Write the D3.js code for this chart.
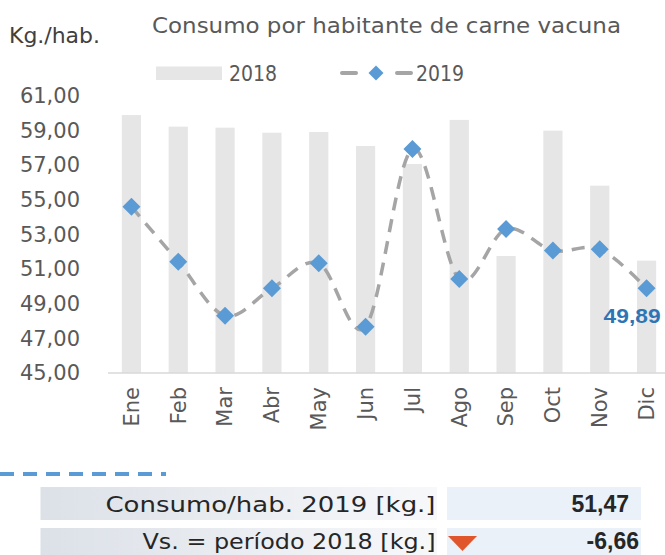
<!DOCTYPE html>
<html><head><meta charset="utf-8">
<script src="https://cdn.jsdelivr.net/npm/d3@7"></script>
<style>
html,body{margin:0;padding:0;background:#fff;}
svg{display:block;}
</style></head>
<body>
<svg id="chart" width="665" height="555"></svg>
<script>
const months = ["Ene","Feb","Mar","Abr","May","Jun","Jul","Ago","Sep","Oct","Nov","Dic"];
const values2018 = [59.90,59.23,59.17,58.88,58.92,58.11,57.07,59.62,51.76,59.00,55.82,51.49];
const values2019 = [54.61,51.43,48.31,49.89,51.34,47.67,57.94,50.43,53.32,52.07,52.15,49.89];
const yTicks = [45,47,49,51,53,55,57,59,61];
const title = "Consumo por habitante de carne vacuna";
const unitLabel = "Kg./hab.";
const seriesNames = ["2018","2019"];
const lastLabel = "49,89";
const tableLabels = ["Consumo/hab. 2019 [kg.]","Vs. = período 2018 [kg.]"];
const tableValues = ["51,47","-6,66"];

const svg = d3.select("#chart");
const fmt = d => d.toFixed(2).replace(".", ",");
const narrow = "'DejaVu Sans Condensed','DejaVu Sans',sans-serif";
const wide = "'DejaVu Sans',sans-serif";

const x = d3.scaleBand().domain(months).range([108, 670]).paddingInner(0.59).paddingOuter(0.295);
const y = d3.scaleLinear().domain([45, 61]).range([373, 96]);

// Title
svg.append("text").attr("x", 152).attr("y", 33).text(title)
  .attr("font-family", narrow).attr("font-size", 21.5).attr("fill", "#595959")
  .attr("textLength", 469).attr("lengthAdjust", "spacingAndGlyphs");
svg.append("text").attr("x", 9).attr("y", 43).text(unitLabel)
  .attr("font-family", narrow).attr("font-size", 21).attr("fill", "#404040")
  .attr("textLength", 91).attr("lengthAdjust", "spacingAndGlyphs");

// Legend
svg.append("rect").attr("x", 156).attr("y", 66.5).attr("width", 66).attr("height", 13.5).attr("fill", "#e7e6e6");
svg.append("text").attr("x", 229).attr("y", 81).text(seriesNames[0])
  .attr("font-family", narrow).attr("font-size", 22).attr("fill", "#595959")
  .attr("textLength", 48).attr("lengthAdjust", "spacingAndGlyphs");
svg.append("line").attr("x1", 342).attr("x2", 356).attr("y1", 73).attr("y2", 73)
  .attr("stroke", "#a5a5a5").attr("stroke-width", 4).attr("stroke-linecap", "round");
svg.append("line").attr("x1", 397).attr("x2", 411).attr("y1", 73).attr("y2", 73)
  .attr("stroke", "#a5a5a5").attr("stroke-width", 4).attr("stroke-linecap", "round");
const diamond = (cx, cy, r) => `M${cx},${cy - r}L${cx + r},${cy}L${cx},${cy + r}L${cx - r},${cy}Z`;
svg.append("path").attr("d", diamond(376, 73, 7.5)).attr("fill", "#5b9bd5");
svg.append("text").attr("x", 416).attr("y", 81).text(seriesNames[1])
  .attr("font-family", narrow).attr("font-size", 22).attr("fill", "#595959")
  .attr("textLength", 48).attr("lengthAdjust", "spacingAndGlyphs");

// Bars
svg.append("g").selectAll("rect").data(months).join("rect")
  .attr("x", d => x(d)).attr("width", x.bandwidth())
  .attr("y", (d, i) => y(values2018[i])).attr("height", (d, i) => y(45) - y(values2018[i]))
  .attr("fill", "#e7e6e6");

// Y axis
const yAxis = svg.append("g").attr("transform", "translate(86,0)")
  .call(d3.axisLeft(y).tickValues(yTicks).tickFormat(fmt).tickSize(0).tickPadding(6));
yAxis.select(".domain").remove();
yAxis.selectAll("text").attr("font-family", wide).attr("font-size", 21).attr("fill", "#595959");

// X axis
const xAxis = svg.append("g").attr("transform", "translate(0,373)")
  .call(d3.axisBottom(x).tickSize(0).tickPadding(0));
xAxis.select(".domain").attr("stroke", "#d9d9d9").attr("stroke-width", 1.5).attr("d", "M108,0H665");
xAxis.selectAll("text").attr("font-family", wide).attr("font-size", 21).attr("fill", "#595959")
  .attr("transform", "rotate(-90)").attr("text-anchor", "end")
  .attr("x", -14).attr("y", 0).attr("dy", "0.35em");

// Line 2019
const line = d3.line().x((d, i) => x(months[i]) + x.bandwidth() / 2).y(d => y(d)).curve(d3.curveCatmullRom.alpha(0));
svg.append("path").datum(values2019).attr("d", line).attr("fill", "none")
  .attr("stroke", "#a5a5a5").attr("stroke-width", 3.5).attr("stroke-dasharray", "13,9");
svg.append("g").selectAll("path").data(values2019).join("path")
  .attr("d", (d, i) => diamond(x(months[i]) + x.bandwidth() / 2, y(d), 9))
  .attr("fill", "#5b9bd5");

// Data label
const lastX = x(months[11]) + x.bandwidth() / 2;
svg.append("text").attr("x", lastX + 14).attr("y", y(values2019[11]) + 35).attr("text-anchor", "end")
  .text(lastLabel).attr("font-family", "'Liberation Sans',Arial,sans-serif").attr("font-weight", "bold")
  .attr("font-size", 21).attr("fill", "#2e75b6")
  .attr("textLength", 57).attr("lengthAdjust", "spacingAndGlyphs");

// Bottom dashed line
svg.append("line").attr("x1", 0).attr("x2", 166).attr("y1", 474).attr("y2", 474)
  .attr("stroke", "#5b9bd5").attr("stroke-width", 4).attr("stroke-dasharray", "14,9");

// Table
const defs = svg.append("defs");
const grad = defs.append("linearGradient").attr("id", "lblGrad").attr("x1", "0").attr("x2", "1").attr("y1", "0").attr("y2", "0");
grad.append("stop").attr("offset", "0").attr("stop-color", "#dce1e8");
grad.append("stop").attr("offset", "1").attr("stop-color", "#f7f8fa");
const rowY = [487, 528];
const baseY = [512, 549];
tableLabels.forEach((lab, i) => {
  svg.append("rect").attr("x", 40.5).attr("y", rowY[i]).attr("width", 396.5).attr("height", 33).attr("fill", "url(#lblGrad)");
  svg.append("rect").attr("x", 447).attr("y", rowY[i]).attr("width", 194).attr("height", 33).attr("fill", "#eaf1f9");
  svg.append("text").attr("x", 435.5).attr("y", baseY[i]).attr("text-anchor", "end").text(lab)
    .attr("font-family", wide).attr("font-size", 22).attr("fill", "#262626")
    .attr("textLength", i === 0 ? 330 : 293).attr("lengthAdjust", "spacingAndGlyphs");
  svg.append("text").attr("x", i === 0 ? 629 : 639).attr("y", baseY[i]).attr("text-anchor", "end").text(tableValues[i])
    .attr("font-family", "'Liberation Sans',Arial,sans-serif").attr("font-weight", "bold").attr("font-size", 23).attr("fill", "#262626");
});
svg.append("path").attr("d", "M448,536L477,536L462.5,551Z").attr("fill", "#e0552c");
</script>
</body></html>
